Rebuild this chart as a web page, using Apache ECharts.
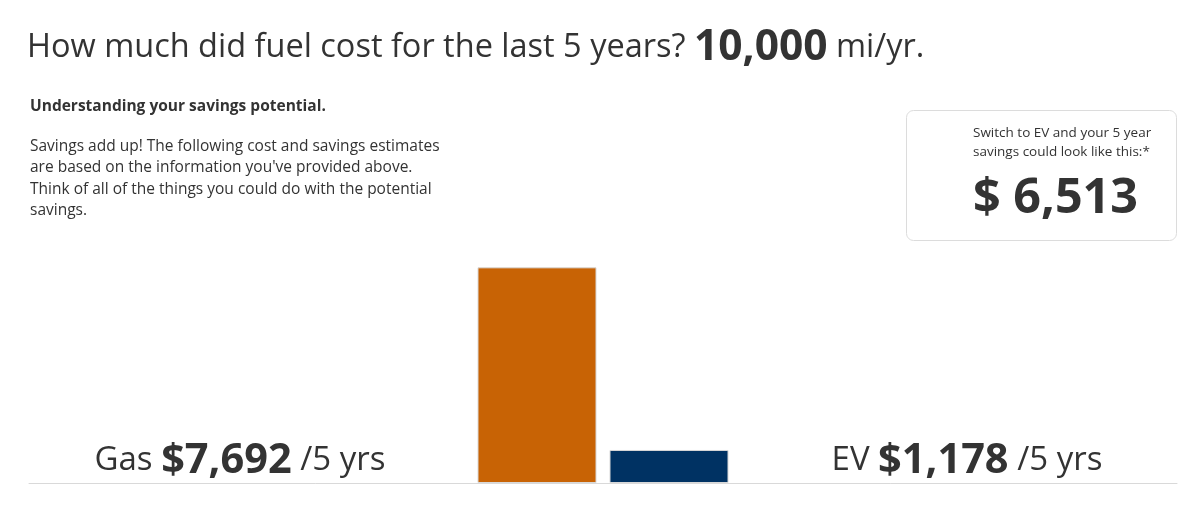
<!DOCTYPE html>
<html>
  <head>
    <meta charset="utf-8">
    <script src="https://cdn.jsdelivr.net/npm/echarts@6/dist/echarts.min.js"></script>
    <style>
      body { margin: 0; padding: 0; background: #fff; }
      #chart { width: 1200px; height: 523px; }
    </style>
  </head>
  <body>
    <div id="chart"></div>
    <script>
      const categories = ['Gas', 'EV'];
      const costs = [7692, 1178];
      const barColors = ['#c86305', '#003263'];
      const savings = 6513;
      const milesPerYear = 10000;

      const fmt = (v) => v.toLocaleString('en-US');
      const font = '"Open Sans", sans-serif';
      const ink = '#333333';

      const chart = echarts.init(document.getElementById('chart'));

      const costLabel = (i, x) => ({
        text: '{n|' + categories[i] + ' }{b|$' + fmt(costs[i]) + '}{n| /5 yrs}',
        left: x,
        top: 436,
        padding: 0,
        textAlign: 'center',
        textStyle: {
          rich: {
            n: { fontFamily: font, fontSize: 33, fontWeight: 'normal', color: ink, lineHeight: 50 },
            b: { fontFamily: font, fontSize: 41.5, fontWeight: 'bold', color: ink, lineHeight: 50 }
          }
        }
      });

      chart.setOption({
        animation: false,
        title: [
          {
            text: '{n|How much did fuel cost for the last 5 years? }{b|' + fmt(milesPerYear) + '}{n| mi/yr.}',
            left: 27,
            top: 20,
            padding: 0,
            textStyle: {
              rich: {
                n: { fontFamily: font, fontSize: 32.5, fontWeight: 'normal', color: ink, lineHeight: 56 },
                b: { fontFamily: font, fontSize: 42.5, fontWeight: 'bold', color: ink, lineHeight: 56 }
              }
            }
          },
          {
            text: 'Understanding your savings potential.',
            left: 30,
            top: 97,
            padding: 0,
            textStyle: { fontFamily: font, fontSize: 15.5, fontWeight: 'bold', color: ink, lineHeight: 20 }
          },
          {
            text: 'Savings add up! The following cost and savings estimates\n' +
                  "are based on the information you've provided above.\n" +
                  'Think of all of the things you could do with the potential\n' +
                  'savings.',
            left: 30,
            top: 136,
            padding: 0,
            textStyle: { fontFamily: font, fontSize: 15.5, fontWeight: 'normal', color: ink, lineHeight: 21.3 }
          },
          {
            text: 'Switch to EV and your 5 year\nsavings could look like this:*',
            left: 973,
            top: 124,
            padding: 0,
            textStyle: { fontFamily: font, fontSize: 13.5, fontWeight: 'normal', color: ink, lineHeight: 19 }
          },
          {
            text: '$ ' + fmt(savings),
            left: 973,
            top: 169,
            padding: 0,
            textStyle: { fontFamily: font, fontSize: 48.5, fontWeight: 'bold', color: ink, lineHeight: 60 }
          },
          costLabel(0, 240),
          costLabel(1, 967)
        ],
        graphic: [
          {
            type: 'rect',
            shape: { x: 906.5, y: 110.5, width: 270, height: 130, r: 7 },
            style: { fill: '#fff', stroke: '#dcdcdc', lineWidth: 1 },
            z: -1
          }
        ],
        grid: [
          { left: 471, width: 264, top: 258.7, bottom: 40 },
          { left: 29, right: 23, top: 258.7, bottom: 40 }
        ],
        xAxis: [
          {
            gridIndex: 0,
            type: 'category',
            data: categories,
            axisLine: { show: false },
            axisTick: { show: false },
            axisLabel: { show: false }
          },
          {
            gridIndex: 1,
            type: 'value',
            min: 0,
            max: 1,
            axisLine: { show: true, lineStyle: { color: '#d9d9d9', width: 1 } },
            axisTick: { show: false },
            axisLabel: { show: false },
            splitLine: { show: false }
          }
        ],
        yAxis: [
          { gridIndex: 0, type: 'value', min: 0, max: 8000, show: false },
          { gridIndex: 1, type: 'value', min: 0, max: 1, show: false }
        ],
        series: [
          {
            type: 'bar',
            xAxisIndex: 0,
            yAxisIndex: 0,
            barWidth: 119,
            data: costs.map((v, i) => ({
              value: v,
              itemStyle: { color: barColors[i], borderColor: '#d8d8d8', borderWidth: 1 }
            })),
            z: 3
          }
        ]
      });
    </script>
  </body>
</html>
